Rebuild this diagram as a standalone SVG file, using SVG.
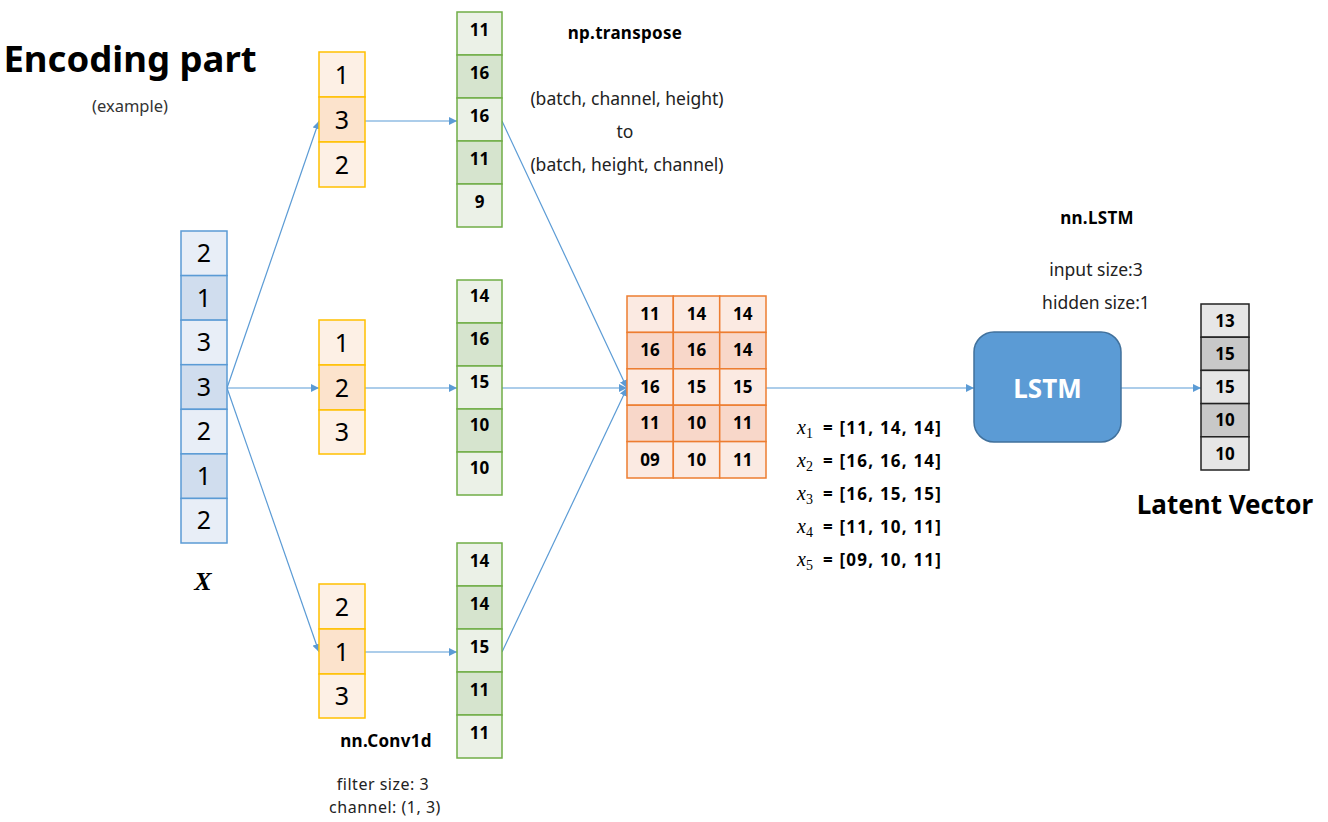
<svg xmlns="http://www.w3.org/2000/svg" width="1328" height="822" viewBox="0 0 1328 822">
<style>
text{font-family:"Noto Sans","Open Sans","Liberation Sans",sans-serif;fill:#000}
.big{font-size:25px;text-anchor:middle}
.num{font-size:17px;font-weight:bold;text-anchor:middle}
.lbl{font-size:17.5px;text-anchor:middle;fill:#222}
.lbls{font-size:16px;text-anchor:middle;fill:#222;letter-spacing:0.5px}
.lblb{font-size:17px;font-weight:bold;text-anchor:middle;letter-spacing:0.3px}
.math{font-family:"Liberation Serif","DejaVu Serif",serif;font-style:italic}
.eqx{font-family:"Liberation Serif","DejaVu Serif",serif;font-style:italic;font-size:20px}
.eqs{font-family:"Liberation Serif","DejaVu Serif",serif;font-size:14px}
.eqt{font-size:17px;font-weight:bold;letter-spacing:1.2px}
.xa{fill:#E8EEF7;stroke:#5B9BD5;stroke-width:1.5}
.xb{fill:#D0DDEE;stroke:#5B9BD5;stroke-width:1.5}
.fa{fill:#FDF0E5;stroke:#FFC000;stroke-width:1.5}
.fb{fill:#FCE3CC;stroke:#FFC000;stroke-width:1.5}
.ga{fill:#EBF1E7;stroke:#70AD47;stroke-width:1.5}
.gb{fill:#D6E4CE;stroke:#70AD47;stroke-width:1.5}
.ma{fill:#FBEAE2;stroke:#ED7D31;stroke-width:1.5}
.mb{fill:#F8D7C9;stroke:#ED7D31;stroke-width:1.5}
.la{fill:#E6E6E6;stroke:#222;stroke-width:1.5}
.lb{fill:#C8C8C8;stroke:#222;stroke-width:1.5}
.conn line{stroke:#5B9BD5;stroke-width:1.2;fill:none;marker-end:url(#ah)}
</style>
<defs>
<marker id="ah" viewBox="0 0 10 10" refX="10" refY="5" markerWidth="8" markerHeight="8" markerUnits="userSpaceOnUse" orient="auto">
<path d="M0,0 L10,5 L0,10 z" fill="#5B9BD5"/>
</marker>
</defs>
<rect width="1328" height="822" fill="#fff"/>

<g id="title">
<text x="130" y="72" style="font-size:36.5px;font-weight:bold;text-anchor:middle">Encoding part</text>
<text x="130" y="112" style="font-size:16.5px;text-anchor:middle;fill:#333">(example)</text>
</g>

<g id="conn" class="conn">
<line x1="227" y1="388" x2="319" y2="121"/>
<line x1="227" y1="388" x2="319" y2="388"/>
<line x1="227" y1="388" x2="319" y2="652"/>
<line x1="365" y1="121" x2="457" y2="121"/>
<line x1="365" y1="388" x2="457" y2="388"/>
<line x1="365" y1="652" x2="457" y2="652"/>
<line x1="502" y1="121" x2="627" y2="388"/>
<line x1="502" y1="388" x2="627" y2="388"/>
<line x1="502" y1="652" x2="627" y2="388"/>
<line x1="766" y1="388" x2="974" y2="388"/>
<line x1="1121" y1="388" x2="1201" y2="388"/>
</g>

<g id="x-input">
<rect class="xa" x="181" y="231" width="46" height="44.6"/>
<rect class="xb" x="181" y="275.6" width="46" height="44.6"/>
<rect class="xa" x="181" y="320.1" width="46" height="44.6"/>
<rect class="xb" x="181" y="364.7" width="46" height="44.6"/>
<rect class="xa" x="181" y="409.3" width="46" height="44.6"/>
<rect class="xb" x="181" y="453.9" width="46" height="44.6"/>
<rect class="xa" x="181" y="498.4" width="46" height="44.6"/>
<text class="big" x="204" y="262">2</text>
<text class="big" x="204" y="307">1</text>
<text class="big" x="204" y="351">3</text>
<text class="big" x="204" y="396">3</text>
<text class="big" x="204" y="440">2</text>
<text class="big" x="204" y="485">1</text>
<text class="big" x="204" y="529">2</text>
<text class="math" x="203" y="590" style="font-size:26px;font-weight:bold;text-anchor:middle">X</text>
</g>

<g id="filter-top">
<rect class="fa" x="319" y="52" width="46" height="45"/>
<rect class="fb" x="319" y="97" width="46" height="45"/>
<rect class="fa" x="319" y="142" width="46" height="45"/>
<text class="big" x="342" y="84">1</text>
<text class="big" x="342" y="129">3</text>
<text class="big" x="342" y="174">2</text>
</g>

<g id="filter-mid">
<rect class="fa" x="319" y="320" width="46" height="45"/>
<rect class="fb" x="319" y="365" width="46" height="45"/>
<rect class="fa" x="319" y="410" width="46" height="44"/>
<text class="big" x="342" y="352">1</text>
<text class="big" x="342" y="397">2</text>
<text class="big" x="342" y="441">3</text>
</g>

<g id="filter-bot">
<rect class="fa" x="319" y="584" width="46" height="45"/>
<rect class="fb" x="319" y="629" width="46" height="45"/>
<rect class="fa" x="319" y="674" width="46" height="44"/>
<text class="big" x="342" y="616">2</text>
<text class="big" x="342" y="661">1</text>
<text class="big" x="342" y="705">3</text>
</g>

<g id="green-top">
<rect class="ga" x="457" y="12" width="45" height="43"/>
<rect class="gb" x="457" y="55" width="45" height="43"/>
<rect class="ga" x="457" y="98" width="45" height="43"/>
<rect class="gb" x="457" y="141" width="45" height="43"/>
<rect class="ga" x="457" y="184" width="45" height="43"/>
<text class="num" x="479.5" y="36">11</text>
<text class="num" x="479.5" y="79">16</text>
<text class="num" x="479.5" y="122">16</text>
<text class="num" x="479.5" y="165">11</text>
<text class="num" x="479.5" y="208">9</text>
</g>

<g id="green-mid">
<rect class="ga" x="457" y="280" width="45" height="43"/>
<rect class="gb" x="457" y="323" width="45" height="43"/>
<rect class="ga" x="457" y="366" width="45" height="43"/>
<rect class="gb" x="457" y="409" width="45" height="43"/>
<rect class="ga" x="457" y="452" width="45" height="43"/>
<text class="num" x="479.5" y="302">14</text>
<text class="num" x="479.5" y="345">16</text>
<text class="num" x="479.5" y="388">15</text>
<text class="num" x="479.5" y="431">10</text>
<text class="num" x="479.5" y="474">10</text>
</g>

<g id="green-bot">
<rect class="ga" x="457" y="543" width="45" height="43"/>
<rect class="gb" x="457" y="586" width="45" height="43"/>
<rect class="ga" x="457" y="629" width="45" height="43"/>
<rect class="gb" x="457" y="672" width="45" height="43"/>
<rect class="ga" x="457" y="715" width="45" height="43"/>
<text class="num" x="479.5" y="567">14</text>
<text class="num" x="479.5" y="610">14</text>
<text class="num" x="479.5" y="653">15</text>
<text class="num" x="479.5" y="696">11</text>
<text class="num" x="479.5" y="739">11</text>
</g>

<g id="matrix">
<rect class="ma" x="627" y="296" width="46.3" height="36.4"/>
<rect class="ma" x="673.3" y="296" width="46.4" height="36.4"/>
<rect class="ma" x="719.7" y="296" width="46.3" height="36.4"/>
<rect class="mb" x="627" y="332.4" width="46.3" height="36.4"/>
<rect class="mb" x="673.3" y="332.4" width="46.4" height="36.4"/>
<rect class="mb" x="719.7" y="332.4" width="46.3" height="36.4"/>
<rect class="ma" x="627" y="368.8" width="46.3" height="36.4"/>
<rect class="ma" x="673.3" y="368.8" width="46.4" height="36.4"/>
<rect class="ma" x="719.7" y="368.8" width="46.3" height="36.4"/>
<rect class="mb" x="627" y="405.2" width="46.3" height="36.4"/>
<rect class="mb" x="673.3" y="405.2" width="46.4" height="36.4"/>
<rect class="mb" x="719.7" y="405.2" width="46.3" height="36.4"/>
<rect class="ma" x="627" y="441.6" width="46.3" height="36.4"/>
<rect class="ma" x="673.3" y="441.6" width="46.4" height="36.4"/>
<rect class="ma" x="719.7" y="441.6" width="46.3" height="36.4"/>
<text class="num" x="650" y="320">11</text><text class="num" x="696.5" y="320">14</text><text class="num" x="742.8" y="320">14</text>
<text class="num" x="650" y="356">16</text><text class="num" x="696.5" y="356">16</text><text class="num" x="742.8" y="356">14</text>
<text class="num" x="650" y="393">16</text><text class="num" x="696.5" y="393">15</text><text class="num" x="742.8" y="393">15</text>
<text class="num" x="650" y="429">11</text><text class="num" x="696.5" y="429">10</text><text class="num" x="742.8" y="429">11</text>
<text class="num" x="650" y="466">09</text><text class="num" x="696.5" y="466">10</text><text class="num" x="742.8" y="466">11</text>
</g>

<g id="transpose-label">
<text class="lblb" x="625" y="39">np.transpose</text>
<text class="lbl" x="627" y="105">(batch, channel, height)</text>
<text class="lbl" x="625" y="138">to</text>
<text class="lbl" x="627" y="171">(batch, height, channel)</text>
</g>

<g id="equations">
<text class="eqx" x="797" y="434">x</text><text class="eqs" x="806" y="438">1</text><text class="eqt" x="823" y="434">= [11, 14, 14]</text>
<text class="eqx" x="797" y="467">x</text><text class="eqs" x="806" y="471">2</text><text class="eqt" x="823" y="467">= [16, 16, 14]</text>
<text class="eqx" x="797" y="500">x</text><text class="eqs" x="806" y="504">3</text><text class="eqt" x="823" y="500">= [16, 15, 15]</text>
<text class="eqx" x="797" y="533">x</text><text class="eqs" x="806" y="537">4</text><text class="eqt" x="823" y="533">= [11, 10, 11]</text>
<text class="eqx" x="797" y="566">x</text><text class="eqs" x="806" y="570">5</text><text class="eqt" x="823" y="566">= [09, 10, 11]</text>
</g>

<g id="lstm">
<rect x="974" y="332" width="147" height="110" rx="20" ry="20" fill="#5B9BD5" stroke="#41719C" stroke-width="1.5"/>
<text x="1047.5" y="398" style="font-size:26px;font-weight:bold;text-anchor:middle;fill:#fff">LSTM</text>
<text class="lblb" x="1097" y="224">nn.LSTM</text>
<text class="lbl" x="1096" y="276">input size:3</text>
<text class="lbl" x="1096" y="309">hidden size:1</text>
</g>

<g id="latent">
<rect class="la" x="1201" y="304" width="48" height="33.2"/>
<rect class="lb" x="1201" y="337.2" width="48" height="33.2"/>
<rect class="la" x="1201" y="370.4" width="48" height="33.2"/>
<rect class="lb" x="1201" y="403.6" width="48" height="33.2"/>
<rect class="la" x="1201" y="436.8" width="48" height="33.2"/>
<text class="num" x="1225" y="327">13</text>
<text class="num" x="1225" y="360">15</text>
<text class="num" x="1225" y="393">15</text>
<text class="num" x="1225" y="426">10</text>
<text class="num" x="1225" y="460">10</text>
<text x="1225" y="514" style="font-size:26px;font-weight:bold;text-anchor:middle">Latent Vector</text>
</g>

<g id="conv-label">
<text class="lblb" x="386" y="747">nn.Conv1d</text>
<text class="lbls" x="383" y="790">filter size: 3</text>
<text class="lbls" x="385" y="813">channel: (1, 3)</text>
</g>
</svg>
